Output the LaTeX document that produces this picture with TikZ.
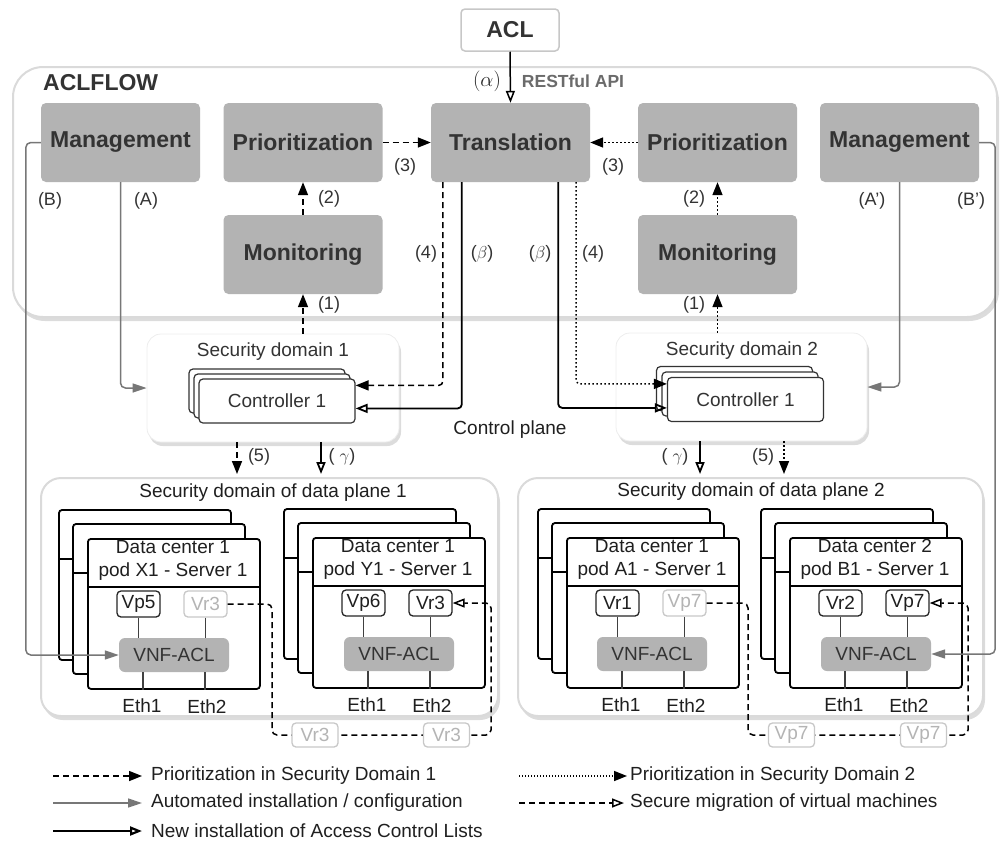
\documentclass[tikz,border=0pt]{standalone}
\usepackage{fontspec}
\setmainfont{Liberation Sans}
\usetikzlibrary{arrows.meta,shadows,calc}
\definecolor{boxgray}{HTML}{B3B3B3}
\definecolor{txt}{HTML}{333333}
\definecolor{framegray}{HTML}{DADADA}
\definecolor{linegray}{HTML}{777777}
\definecolor{ghost}{HTML}{C8C8C8}
\definecolor{ghosttxt}{HTML}{B4B4B4}
\newcommand{\srvstack}[5]{%
  \foreach \dd in {28,14}{%
    \draw[card] (#2-\dd,#3-\dd) rectangle ++(172,150);
    \draw[line width=1.8pt] (#2-\dd,#3-\dd+49) -- ++(172,0);
  }
  \node[card, anchor=north west, minimum width=172pt, minimum height=150pt, inner sep=0pt] (#1) at (#2,#3) {};
  \draw[line width=1.8pt] (#1.north west) ++(0,49) -- ++(172,0);
  \node[txt19, align=center] at (#2+86,#3+22.5) {#4\\#5};
}
\begin{document}
\begin{tikzpicture}[x=1pt,y=-1pt,
  gbox/.style={fill=boxgray, rounded corners=5pt, minimum width=159pt, minimum height=79pt, inner sep=0pt, font=\bfseries\fontsize{23}{27}\selectfont, text=txt},
  lbl/.style={font=\fontsize{18}{22}\selectfont, text=txt, inner sep=0pt},
  txt19/.style={font=\fontsize{19}{23}\selectfont, text=black!88, inner sep=0pt},
  bigframe/.style={draw=framegray, line width=2pt, fill=white, drop shadow={shadow xshift=2pt, shadow yshift=-4pt, opacity=0.28}},
  sdbox/.style={fill=white, draw=black!7, line width=0.8pt, rounded corners=14pt, drop shadow={shadow xshift=2pt, shadow yshift=-4pt, opacity=0.28}},
  ctrl/.style={draw=black!80, line width=1.2pt, fill=white, rounded corners=4pt, minimum width=156pt, minimum height=44pt, inner sep=0pt, font=\fontsize{19}{23}\selectfont, text=txt},
  card/.style={draw=black, line width=1.8pt, fill=white, rounded corners=3pt},
  vm/.style={draw=black!85, line width=1.3pt, fill=white, rounded corners=4pt, minimum width=43pt, minimum height=26pt, inner sep=0pt, font=\fontsize{19}{23}\selectfont, text=black!88},
  vmg/.style={vm, draw=ghost, text=ghosttxt},
  vnf/.style={fill=boxgray, rounded corners=6pt, minimum width=110pt, minimum height=34pt, inner sep=0pt, font=\fontsize{19}{23}\selectfont, text=txt},
  vline/.style={line width=1.2pt, draw=black!75},
  tipF/.style={-{Triangle[length=13pt,width=10pt]}},
  tipO/.style={-{Triangle[open,length=12pt,width=9pt]}},
  dsharr/.style={line width=1.5pt, dash pattern=on 6pt off 4pt, tipF, rounded corners=4pt},
  dotarr/.style={line width=1.5pt, dash pattern=on 1.5pt off 2.5pt, tipF, rounded corners=4pt},
  sol/.style={line width=1.8pt, tipO, rounded corners=4pt},
  gry/.style={line width=1.5pt, draw=linegray, -{Triangle[length=14pt,width=9pt,fill=linegray]}, rounded corners=5pt},
  mig/.style={line width=1.5pt, dash pattern=on 6pt off 4pt, tipO, rounded corners=5pt},
]
\useasboundingbox (0,0) rectangle (1001,841);

% ---------- ACLFLOW frame ----------
\draw[bigframe, rounded corners=30pt] (13,67) rectangle (997,317);
\node[anchor=west, inner sep=0pt, font=\bfseries\fontsize{23}{27}\selectfont, text=txt] (aclflow) at (43,83) {ACLFLOW};

\node[draw=black!22, line width=1.5pt, fill=white, rounded corners=4pt, minimum width=98pt, minimum height=42pt, font=\bfseries\fontsize{23}{27}\selectfont, text=txt] (acl) at (510,30) {ACL};

\node[gbox] (mgmtL) at (120.5,142.5) {Management};
\node[gbox] (prioL) at (303,142.5) {Prioritization};
\node[gbox] (trans) at (510.5,142.5) {Translation};
\node[gbox] (prioR) at (717.5,142.5) {Prioritization};
\node[gbox] (mgmtR) at (899.5,142.5) {Management};
\node[gbox] (monL) at (303,254.5) {Monitoring};
\node[gbox] (monR) at (717.5,254.5) {Monitoring};

% ---------- control plane ----------
\node[sdbox, minimum width=252pt, minimum height=108pt] (sd1) at (273,388) {};
\node[txt19, text=txt] (sd1t) at (273,352) {Security domain 1};
\node[ctrl] (c1b) at (267,391) {};
\node[ctrl] (c1m) at (272,396) {};
\node[ctrl] (ctrl1) at (277,401) {Controller 1};

\node[sdbox, minimum width=251pt, minimum height=108pt] (sd2) at (741.5,387) {};
\node[txt19, text=txt] (sd2t) at (742,351) {Security domain 2};
\node[ctrl] (c2b) at (734.5,388.5) {};
\node[ctrl] (c2m) at (740,394) {};
\node[ctrl] (ctrl2) at (745.5,399.5) {Controller 1};

\node[txt19] (cp) at (510,430) {Control plane};

% ---------- data planes ----------
\node[bigframe, rounded corners=20pt, minimum width=457pt, minimum height=238pt] (dp1) at (269.5,597) {};
\node[txt19] (dp1t) at (273,493) {Security domain of data plane 1};
\node[bigframe, rounded corners=20pt, minimum width=465pt, minimum height=238pt] (dp2) at (750.5,597) {};
\node[txt19] (dp2t) at (751,492) {Security domain of data plane 2};

\srvstack{cX}{87}{538}{Data center 1}{pod X1 - Server 1}
\srvstack{cY}{312}{537}{Data center 1}{pod Y1 - Server 1}
\srvstack{cA}{566}{537}{Data center 1}{pod A1 - Server 1}
\srvstack{cB}{789}{537}{Data center 2}{pod B1 - Server 1}

\node[vm]  (vp5)  at (138.5,604) {Vp5};
\node[vmg] (vr3g) at (205.5,604) {Vr3};
\node[vnf] (vnfX) at (174,655) {VNF-ACL};
\node[vm]  (vp6)  at (363.5,603) {Vp6};
\node[vm]  (vr3)  at (430.5,603) {Vr3};
\node[vnf] (vnfY) at (399,654) {VNF-ACL};
\node[vm]  (vr1)  at (617.5,603) {Vr1};
\node[vmg] (vp7g) at (684.5,603) {Vp7};
\node[vnf] (vnfA) at (652,654) {VNF-ACL};
\node[vm]  (vr2)  at (840.5,603) {Vr2};
\node[vm]  (vp7)  at (907.5,603) {Vp7};
\node[vnf] (vnfB) at (876,654) {VNF-ACL};

\foreach \v/\n in {vp5/vnfX, vr3g/vnfX, vp6/vnfY, vr3/vnfY, vr1/vnfA, vp7g/vnfA, vr2/vnfB, vp7/vnfB}{
  \draw[vline] (\v.south) -- (\v.south |- \n.north);
}
\foreach \c/\n in {cX/vnfX, cY/vnfY, cA/vnfA, cB/vnfB}{
  \draw[vline] ([xshift=56pt]\c.south west) -- ([xshift=56pt]\c.south west |- \n.south);
  \draw[vline] ([xshift=118pt]\c.south west) -- ([xshift=118pt]\c.south west |- \n.south);
  \node[txt19] at ([xshift=55pt,yshift=-16pt]\c.south west) {Eth1};
  \node[txt19] at ([xshift=120pt,yshift=-17pt]\c.south west) {Eth2};
}

% ---------- migrations ----------
\draw[mig] (vr3g.east) -| (272,735) -- (491,735) |- (vr3.east);
\node[vmg, minimum width=46pt, minimum height=24pt] (vr3m1) at (315,735) {Vr3};
\node[vmg, minimum width=46pt, minimum height=24pt] (vr3m2) at (446.5,735) {Vr3};
\draw[mig] (vp7g.east) -| (748,735) -- (968,735) |- (vp7.east);
\node[vmg, minimum width=46pt, minimum height=24pt] (vp7m1) at (791.5,735) {Vp7};
\node[vmg, minimum width=46pt, minimum height=24pt] (vp7m2) at (923.5,735) {Vp7};

% ---------- connectors ----------
\draw[line width=1.5pt, tipO] (acl.south) -- (trans.north);
\draw[dsharr] (prioL.east) -- (trans.west);
\draw[dotarr] (prioR.west) -- (trans.east);
\draw[dsharr] (monL.north) -- (prioL.south);
\draw[dotarr] (monR.north) -- (prioR.south);
\draw[dsharr] (monL.south |- sd1.north) -- (monL.south);
\draw[dotarr] (monR.south |- sd2.north) -- (monR.south);

\draw[dsharr] ([xshift=12pt]trans.south west) |- ([yshift=-7pt]ctrl1.north east);
\draw[sol] ([xshift=31pt]trans.south west) |- ([yshift=-30pt]ctrl1.north east);
\draw[sol] ([xshift=-32pt]trans.south east) |- ([yshift=-31pt]ctrl2.north west);
\draw[dotarr] ([xshift=-14pt]trans.south east) |- ([yshift=-7pt]ctrl2.north west);

\draw[gry] (mgmtL.west) -- ++(-15,0) |- (vnfX.west);
\draw[gry] (mgmtL.south) |- (sd1.west);
\draw[gry] (mgmtR.south) |- (sd2.east);
\draw[gry] (mgmtR.east) -- ++(16,0) |- (vnfB.east);

\coordinate (s5L) at ([xshift=-36pt]sd1.south);
\coordinate (sgL) at ([xshift=48pt]sd1.south);
\coordinate (sgR) at ([xshift=-41.5pt]sd2.south);
\coordinate (s5R) at ([xshift=42.5pt]sd2.south);
\draw[dsharr] (s5L) -- ([yshift=3pt]s5L |- dp1.north);
\draw[sol] (sgL) -- ([yshift=3pt]sgL |- dp1.north);
\draw[sol] (sgR) -- ([yshift=3pt]sgR |- dp2.north);
\draw[dotarr] (s5R) -- ([yshift=3pt]s5R |- dp2.north);

% ---------- labels ----------
\node[lbl, font=\fontsize{20}{22}\selectfont, text=black!85] (la) at (487,81) {$(\alpha)$};
\node[lbl, font=\bfseries\fontsize{17.5}{21}\selectfont, text=black!58] (lapi) at (573,81) {RESTful API};
\node[lbl] (l3a) at (405,167) {(3)};
\node[lbl] (l3b) at (613,167) {(3)};
\node[lbl] (l2a) at (329,199) {(2)};
\node[lbl] (l2b) at (694,199) {(2)};
\node[lbl] (l1a) at (329,305) {(1)};
\node[lbl] (l1b) at (694,305) {(1)};
\node[lbl] (lB) at (50,201) {(B)};
\node[lbl] (lA) at (146,201) {(A)};
\node[lbl] (lA2) at (872,201) {(A')};
\node[lbl] (lB2) at (971,201) {(B')};
\node[lbl] (l4a) at (426,254) {(4)};
\node[lbl] (lba) at (482,254) {($\beta$)};
\node[lbl] (lbb) at (540,254) {($\beta$)};
\node[lbl] (l4b) at (593,254) {(4)};
\node[lbl] (l5a) at (259,457) {(5)};
\node[lbl] (lga) at (342,457) {( $\gamma$)};
\node[lbl] (lgb) at (675,457) {( $\gamma$)};
\node[lbl] (l5b) at (763,457) {(5)};

% ---------- legend ----------
\coordinate (lg1) at (53,776);
\coordinate (lg2) at (53,803);
\coordinate (lg3) at (53,831);
\coordinate (lg4) at (519,776);
\coordinate (lg5) at (519,803);
\node[txt19, anchor=west] (lt1) at (151,776) {Prioritization in Security Domain 1};
\node[txt19, anchor=west] (lt2) at (151,803) {Automated installation / configuration};
\node[txt19, anchor=west] (lt3) at (151,831) {New installation of Access Control Lists};
\node[txt19, anchor=west] (lt4) at (630,776) {Prioritization in Security Domain 2};
\node[txt19, anchor=west] (lt5) at (630,803) {Secure migration of virtual machines};
\draw[dsharr] (lg1) -- ([xshift=-9pt]lt1.west);
\draw[gry] (lg2) -- ([xshift=-9pt]lt2.west);
\draw[sol, line width=2.2pt] (lg3) -- ([xshift=-9pt]lt3.west);
\draw[dotarr, dash pattern=on 1pt off 2pt] (lg4) -- ([xshift=-3pt]lt4.west);
\draw[mig] (lg5) -- ([xshift=-6pt]lt5.west);
\end{tikzpicture}
\end{document}
